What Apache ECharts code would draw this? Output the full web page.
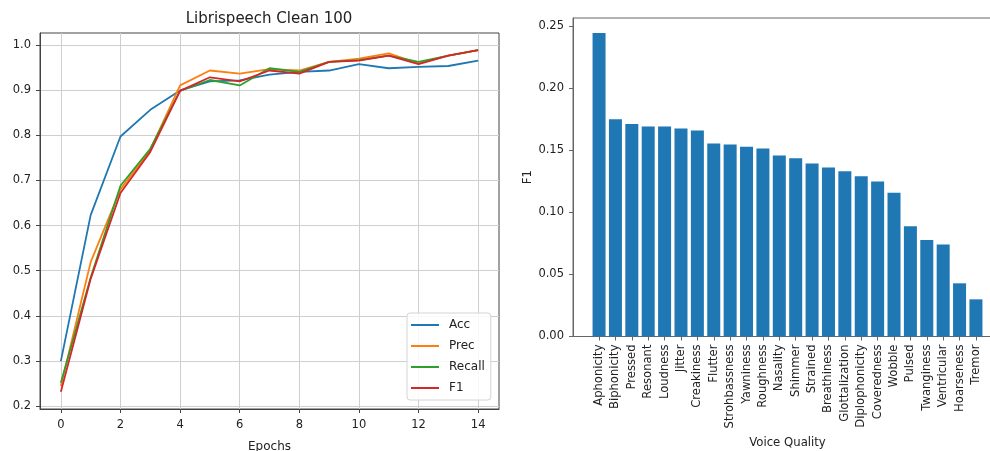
<!DOCTYPE html>
<html>
<head>
<meta charset="utf-8">
<script src="https://cdn.jsdelivr.net/npm/echarts@6/dist/echarts.min.js"></script>
<style>html,body{margin:0;padding:0;background:#fff}#c{width:990px;height:451px}</style>
</head>
<body>
<div id="c"></div>
<script>
const epochs = [0,1,2,3,4,5,6,7,8,9,10,11,12,13,14];
const acc    = [0.300,0.623,0.797,0.856,0.899,0.919,0.921,0.934,0.940,0.943,0.957,0.948,0.951,0.953,0.965];
const prec   = [0.245,0.519,0.680,0.768,0.910,0.943,0.936,0.946,0.943,0.962,0.969,0.981,0.959,0.976,0.988];
const recall = [0.252,0.485,0.688,0.770,0.898,0.922,0.910,0.948,0.940,0.962,0.966,0.976,0.962,0.976,0.988];
const f1     = [0.232,0.482,0.672,0.763,0.898,0.928,0.919,0.943,0.936,0.962,0.965,0.976,0.957,0.976,0.988];
const lineTicksX = [0,2,4,6,8,10,12,14];
const lineTicksY = [0.2,0.3,0.4,0.5,0.6,0.7,0.8,0.9,1.0];

const qualities = ['Aphonicity','Biphonicity','Pressed','Resonant','Loudness','Jitter','Creakiness','Flutter','Strohbassness','Yawniness','Roughness','Nasality','Shimmer','Strained','Breathiness','Glottalization','Diplophonicity','Coveredness','Wobble','Pulsed','Twanginess','Ventricular','Hoarseness','Tremor'];
const f1Scores = [0.2442,0.1748,0.1710,0.1690,0.1690,0.1673,0.1657,0.1553,0.1545,0.1526,0.1513,0.1457,0.1435,0.1392,0.1360,0.1330,0.1290,0.1248,0.1156,0.0888,0.0776,0.0741,0.0428,0.0299];
const barTicksY = [0,0.05,0.10,0.15,0.20,0.25];

const FONT = 'DejaVu Sans';
const TXT = '#222';
const colors = ['#1f77b4','#ff7f0e','#2ca02c','#d62728'];
const names = ['Acc','Prec','Recall','F1'];
const lineData = [acc, prec, recall, f1];

const chart = echarts.init(document.getElementById('c'), null, {renderer:'canvas'});
const option = {
  animation: false,
  textStyle: {fontFamily: FONT},
  title: {
    text: 'Librispeech Clean 100', left: 269, top: 12, textAlign: 'center', padding: 0,
    textStyle: {fontFamily: FONT, fontSize: 15, fontWeight: 'normal', color: TXT}
  },
  legend: {
    data: names, orient: 'vertical', left: 407, top: 313,
    padding: [5, 6, 5, 4], itemGap: 7, itemWidth: 28, itemHeight: 2, icon: 'rect',
    backgroundColor: 'rgba(255,255,255,0.85)', borderColor: '#d4d4d4', borderWidth: 1, borderRadius: 3,
    textStyle: {fontFamily: FONT, fontSize: 12, color: TXT, lineHeight: 14, padding: [0,0,0,5]}
  },
  grid: [
    {left: 40, top: 33, right: 491, bottom: 42, show: true, borderColor: '#444', borderWidth: 1, containLabel: false, outerBoundsMode: 'none'},
    {left: 573, top: 18, right: -12, bottom: 114.5, show: true, borderColor: '#666', borderWidth: 1, containLabel: false, outerBoundsMode: 'none'}
  ],
  xAxis: [
    {
      gridIndex: 0, type: 'value', min: -0.7, max: 14.7,
      name: 'Epochs', nameLocation: 'middle', nameGap: 32,
      nameTextStyle: {fontFamily: FONT, fontSize: 12, color: TXT},
      axisLine: {show: true, onZero: false, lineStyle: {color: '#444'}},
      axisTick: {show: true, inside: false, length: 4, customValues: lineTicksX, lineStyle: {color: '#444'}},
      axisLabel: {customValues: lineTicksX, margin: 10, fontFamily: FONT, fontSize: 11.5, color: TXT},
      splitLine: {show: true, lineStyle: {color: '#cfcfcf', width: 1}}
    },
    {
      gridIndex: 1, type: 'value', min: -1.59, max: 24.59,
      name: 'Voice Quality', nameLocation: 'middle', nameGap: 100,
      nameTextStyle: {fontFamily: FONT, fontSize: 11.7, color: TXT},
      axisLine: {show: true, onZero: false, lineStyle: {color: '#666'}},
      axisTick: {show: true, inside: false, length: 4, customValues: qualities.map((q,i)=>i), lineStyle: {color: '#666'}},
      axisLabel: {customValues: qualities.map((q,i)=>i), rotate: 90, margin: 8, fontFamily: FONT, fontSize: 11.6, color: TXT,
        formatter: v => qualities[Math.round(v)]},
      splitLine: {show: false}
    }
  ],
  yAxis: [
    {
      gridIndex: 0, type: 'value', min: 0.194, max: 1.026,
      axisLine: {show: true, onZero: false, lineStyle: {color: '#444'}},
      axisTick: {show: true, inside: false, length: 4, customValues: lineTicksY, lineStyle: {color: '#444'}},
      axisLabel: {customValues: lineTicksY, margin: 9, fontFamily: FONT, fontSize: 11.5, color: TXT,
        formatter: v => v.toFixed(1)},
      splitLine: {show: true, lineStyle: {color: '#cfcfcf', width: 1}}
    },
    {
      gridIndex: 1, type: 'value', min: 0, max: 0.2563,
      name: 'F1', nameLocation: 'middle', nameGap: 39, nameRotate: 90,
      nameTextStyle: {fontFamily: FONT, fontSize: 11.7, color: TXT},
      axisLine: {show: true, onZero: false, lineStyle: {color: '#666'}},
      axisTick: {show: true, inside: false, length: 4, customValues: barTicksY, lineStyle: {color: '#666'}},
      axisLabel: {customValues: barTicksY, margin: 9, fontFamily: FONT, fontSize: 11.5, color: TXT,
        formatter: v => v.toFixed(2)},
      splitLine: {show: false}
    }
  ],
  series: [
    ...lineData.map((arr, k) => ({
      type: 'line', name: names[k], xAxisIndex: 0, yAxisIndex: 0,
      data: epochs.map((e, i) => [e, arr[i]]),
      showSymbol: false, symbol: 'none', color: colors[k],
      lineStyle: {color: colors[k], width: 1.8}, z: 2 + k
    })),
    {
      type: 'bar', name: 'F1 by quality', xAxisIndex: 1, yAxisIndex: 1,
      data: qualities.map((q, i) => [i, f1Scores[i]]),
      barWidth: 13, itemStyle: {color: '#1f77b4'}
    }
  ]
};
chart.setOption(option);
</script>
</body>
</html>
